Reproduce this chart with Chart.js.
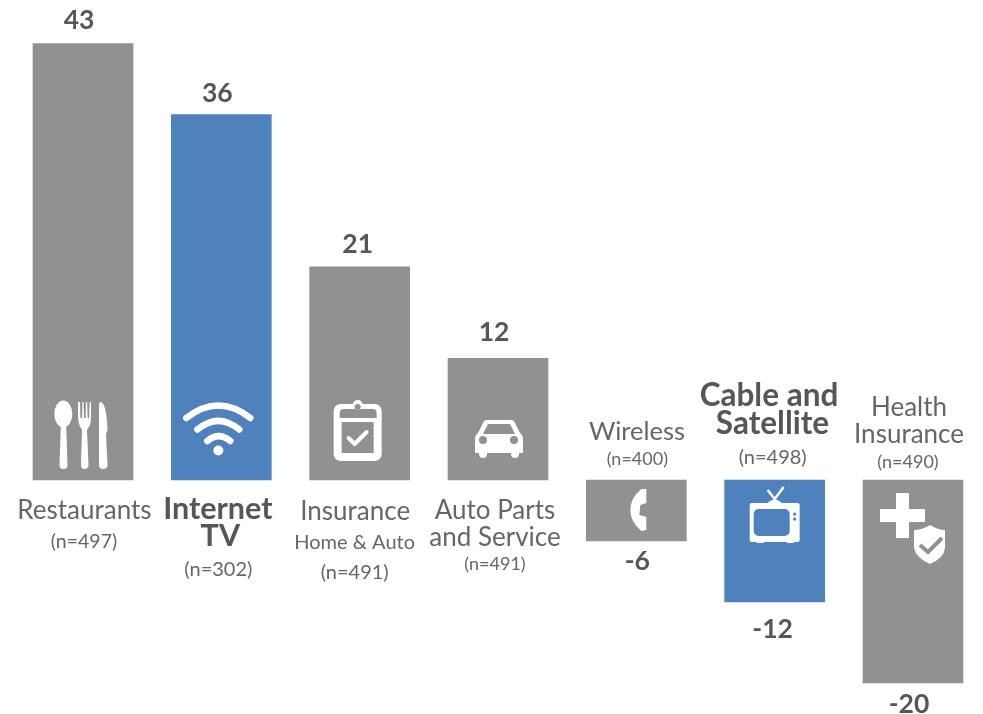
<!DOCTYPE html>
<html>
<head>
<meta charset="utf-8">
<title>Net score by category</title>
<script src="https://cdn.jsdelivr.net/npm/chart.js@4"></script>
<style>
    html, body { margin: 0; padding: 0; background: #fff; }
    canvas { display: block; }
</style>
</head>
<body>
<canvas id="scorechart" width="983" height="714"></canvas>
<script>
"use strict";

var categories = ['Restaurants', 'Internet TV', 'Insurance', 'Auto Parts and Service', 'Wireless', 'Cable and Satellite', 'Health Insurance'];
var scores = [43, 36, 21, 12, -6, -12, -20];
var sampleSizes = [497, 302, 491, 491, 400, 498, 490];
var highlighted = ['Internet TV', 'Cable and Satellite'];
var nameLines = [
    ['Restaurants'],
    ['Internet', 'TV'],
    ['Insurance', 'Home & Auto'],
    ['Auto Parts', 'and Service'],
    ['Wireless'],
    ['Cable and', 'Satellite'],
    ['Health', 'Insurance']
];

var FONT = 'Lato, "Open Sans", sans-serif';
var GREY = '#919191';
var BLUE = '#4f81bd';
var TEXT_DARK = '#565656';
var TEXT_SOFT = '#666666';

/* label slots: [dx from bar centre, baseline from zero line, size, weight] */
var nameSlots = [
    [[1.5, 39, 26, 400]],
    [[-3.5, 39, 30.5, 700], [-1, 66, 30.5, 700]],
    [[-4.5, 40, 26, 400], [-5, 69, 20, 400]],
    [[-3, 39, 26, 400], [-3, 66, 26, 400]],
    [[0.7, -40, 25.5, 400]],
    [[-5.7, -74, 31.5, 700], [-2.2, -46, 31.5, 700]],
    [[-4, -64, 26, 400], [-4, -37, 26, 400]]
];
var countSlots = [[1, 68, 19.5], [-3, 96, 20], [-5, 99, 20], [-3, 90, 18], [1, -15, 18], [-2, -16, 20], [-5, -12, 18]];
var valueSlots = [[-4, -15], [-4, -13], [-2, -14], [-4, -17], [1, 29], [-2, 36], [-4, 30]];

function roundedRect(ctx, x, y, w, h, r) {
    ctx.beginPath();
    ctx.roundRect(x, y, w, h, r);
}

/* icons are drawn around (0,0) = bar centre on the zero line */
var icons = [
    function (ctx) {
        // spoon
        ctx.beginPath();
        ctx.ellipse(-19.7, -66, 9, 13.5, 0, 0, Math.PI * 2);
        ctx.fill();
        ctx.beginPath();
        ctx.moveTo(-22, -60);
        ctx.lineTo(-23.5, -15);
        ctx.quadraticCurveTo(-23.5, -11, -19.5, -11);
        ctx.quadraticCurveTo(-15.5, -11, -15.5, -15);
        ctx.lineTo(-17, -60);
        ctx.fill();
        // fork
        ctx.beginPath();
        ctx.moveTo(-5, -78);
        ctx.lineTo(-5, -62);
        ctx.quadraticCurveTo(-4.5, -55, -1, -50);
        ctx.lineTo(-2, -15);
        ctx.quadraticCurveTo(-2, -11, 1.5, -11);
        ctx.quadraticCurveTo(5.5, -11, 5.5, -15);
        ctx.lineTo(4, -50);
        ctx.quadraticCurveTo(8, -55, 8, -62);
        ctx.lineTo(8, -78);
        ctx.lineTo(6.6, -78);
        ctx.lineTo(6.2, -62);
        ctx.lineTo(4.6, -62);
        ctx.lineTo(4.2, -78);
        ctx.lineTo(3, -78);
        ctx.lineTo(2.6, -62);
        ctx.lineTo(1, -62);
        ctx.lineTo(0.6, -78);
        ctx.lineTo(-0.6, -78);
        ctx.lineTo(-1, -62);
        ctx.lineTo(-2.6, -62);
        ctx.lineTo(-3, -78);
        ctx.closePath();
        ctx.fill();
        // knife
        ctx.beginPath();
        ctx.moveTo(16, -15);
        ctx.lineTo(16, -76);
        ctx.quadraticCurveTo(16, -78, 18, -78);
        ctx.quadraticCurveTo(23.5, -76, 24.5, -50);
        ctx.lineTo(23, -46);
        ctx.lineTo(24.5, -15);
        ctx.quadraticCurveTo(24.5, -11, 20, -11);
        ctx.quadraticCurveTo(16, -11, 16, -15);
        ctx.fill();
    },
    function (ctx) {
        ctx.lineWidth = 6.5;
        ctx.lineCap = 'round';
        ctx.beginPath();
        ctx.moveTo(-35, -62);
        ctx.quadraticCurveTo(-3, -87, 29, -62);
        ctx.stroke();
        ctx.beginPath();
        ctx.moveTo(-24, -50.5);
        ctx.quadraticCurveTo(-3, -68, 18, -50.5);
        ctx.stroke();
        ctx.beginPath();
        ctx.moveTo(-14, -39);
        ctx.quadraticCurveTo(-3, -49, 9, -39);
        ctx.stroke();
        ctx.beginPath();
        ctx.arc(-3, -29.5, 5, 0, Math.PI * 2);
        ctx.fill();
    },
    function (ctx) {
        roundedRect(ctx, -26, -76, 48, 57, 7);
        ctx.fill();
        ctx.fillStyle = GREY;
        roundedRect(ctx, -20, -71, 37, 9, [4, 4, 0, 0]);
        ctx.fill();
        ctx.fillRect(-18, -58, 32, 31);
        ctx.fillStyle = '#fff';
        ctx.beginPath();
        ctx.arc(-2, -75, 5, 0, Math.PI * 2);
        ctx.fill();
        ctx.fillStyle = GREY;
        ctx.beginPath();
        ctx.arc(-2, -73, 3, 0, Math.PI * 2);
        ctx.fill();
        ctx.strokeStyle = '#fff';
        ctx.lineWidth = 4;
        ctx.lineCap = 'round';
        ctx.lineJoin = 'round';
        ctx.beginPath();
        ctx.moveTo(-11, -42);
        ctx.lineTo(-5, -36);
        ctx.lineTo(7, -48);
        ctx.stroke();
    },
    function (ctx) {
        ctx.beginPath();
        ctx.moveTo(-11, -60);
        ctx.lineTo(13, -60);
        ctx.quadraticCurveTo(16, -60, 17, -57);
        ctx.lineTo(22, -47);
        ctx.quadraticCurveTo(25, -45, 25, -41);
        ctx.lineTo(25, -27);
        ctx.lineTo(21, -27);
        ctx.lineTo(21, -26);
        ctx.quadraticCurveTo(21, -22, 17, -22);
        ctx.quadraticCurveTo(13, -22, 13, -26);
        ctx.lineTo(13, -27);
        ctx.lineTo(-11, -27);
        ctx.lineTo(-11, -26);
        ctx.quadraticCurveTo(-11, -22, -15, -22);
        ctx.quadraticCurveTo(-19, -22, -19, -26);
        ctx.lineTo(-19, -27);
        ctx.lineTo(-23, -27);
        ctx.lineTo(-23, -41);
        ctx.quadraticCurveTo(-23, -45, -20, -47);
        ctx.lineTo(-15, -57);
        ctx.quadraticCurveTo(-14, -60, -11, -60);
        ctx.fill();
        ctx.fillStyle = GREY;
        ctx.beginPath();
        ctx.moveTo(-10, -56);
        ctx.lineTo(12, -56);
        ctx.lineTo(17, -46);
        ctx.lineTo(-15, -46);
        ctx.closePath();
        ctx.fill();
        ctx.beginPath();
        ctx.arc(-15, -40, 4, 0, Math.PI * 2);
        ctx.arc(16, -40, 4, 0, Math.PI * 2);
        ctx.fill();
    },
    function (ctx) {
        ctx.beginPath();
        ctx.moveTo(5, 9);
        ctx.lineTo(10, 9);
        ctx.lineTo(10, 23);
        ctx.lineTo(4, 25);
        ctx.lineTo(3, 35);
        ctx.lineTo(10, 37);
        ctx.lineTo(10, 50);
        ctx.lineTo(5, 51);
        ctx.quadraticCurveTo(-6, 42, -6, 30);
        ctx.quadraticCurveTo(-6, 18, 5, 9);
        ctx.fill();
    },
    function (ctx) {
        ctx.lineWidth = 2.5;
        ctx.beginPath();
        ctx.moveTo(-7, 10);
        ctx.lineTo(0, 19);
        ctx.lineTo(9, 7);
        ctx.stroke();
        ctx.beginPath();
        ctx.moveTo(-8, 24);
        ctx.quadraticCurveTo(0, 15, 8, 24);
        ctx.fill();
        roundedRect(ctx, -25, 23, 50, 39, 2);
        ctx.fill();
        ctx.fillRect(-18, 60, 7, 3);
        ctx.fillRect(12, 60, 7, 3);
        ctx.fillStyle = BLUE;
        roundedRect(ctx, -21, 29, 36, 27, 5);
        ctx.fill();
        ctx.beginPath();
        ctx.arc(20, 34, 1.6, 0, Math.PI * 2);
        ctx.arc(20, 39, 1.6, 0, Math.PI * 2);
        ctx.fill();
    },
    function (ctx) {
        ctx.fillRect(-17, 13, 13, 45);
        ctx.fillRect(-33, 29, 45, 13);
        ctx.beginPath();
        ctx.moveTo(17, 45);
        ctx.quadraticCurveTo(25, 50, 32, 50);
        ctx.lineTo(32, 68);
        ctx.quadraticCurveTo(31, 78, 17, 84);
        ctx.quadraticCurveTo(3, 78, 1, 68);
        ctx.lineTo(1, 50);
        ctx.quadraticCurveTo(9, 50, 17, 45);
        ctx.fill();
        ctx.strokeStyle = GREY;
        ctx.lineWidth = 4;
        ctx.beginPath();
        ctx.moveTo(7, 65);
        ctx.lineTo(15, 72);
        ctx.lineTo(29, 58);
        ctx.stroke();
    }
];

var barAnnotations = {
    id: 'barAnnotations',
    afterDatasetsDraw: function (chart) {
        var ctx = chart.ctx;
        var bars = chart.getDatasetMeta(0).data;
        var zero = chart.scales.y.getPixelForValue(0);

        ctx.save();
        ctx.textAlign = 'center';
        ctx.textBaseline = 'alphabetic';

        bars.forEach(function (bar, i) {
            ctx.save();
            ctx.translate(chart.scales.x.getPixelForValue(i), zero);
            ctx.fillStyle = '#fff';
            ctx.strokeStyle = '#fff';
            icons[i](ctx);
            ctx.restore();

            // value above or below the bar end
            ctx.fillStyle = TEXT_DARK;
            ctx.font = '700 26.5px ' + FONT;
            ctx.fillText(String(scores[i]), bar.x + valueSlots[i][0], bar.y + valueSlots[i][1]);

            // category name lines
            nameLines[i].forEach(function (line, j) {
                var slot = nameSlots[i][j];
                ctx.fillStyle = slot[3] === 700 ? TEXT_DARK : TEXT_SOFT;
                ctx.font = slot[3] + ' ' + slot[2] + 'px ' + FONT;
                ctx.fillText(line, bar.x + slot[0], zero + slot[1]);
            });

            // sample size
            var count = countSlots[i];
            ctx.fillStyle = TEXT_SOFT;
            ctx.font = '400 ' + count[2] + 'px ' + FONT;
            ctx.fillText('(n=' + sampleSizes[i] + ')', bar.x + count[0], zero + count[1]);
        });
        ctx.restore();
    }
};

document.addEventListener("DOMContentLoaded", function () {
    var scorechart = document.getElementById('scorechart').getContext('2d');
    new Chart(scorechart, {
        type: 'bar',
        data: {
            labels: categories,
            datasets: [{
                label: 'Score',
                data: scores,
                backgroundColor: categories.map(function (name) {
                    return highlighted.indexOf(name) >= 0 ? BLUE : GREY;
                }),
                borderWidth: 0,
                barThickness: 100
            }]
        },
        options: {
            responsive: false,
            animation: false,
            layout: { padding: { left: 13.83, right: 0.83, top: 0, bottom: 0 } },
            plugins: {
                legend: { display: false },
                tooltip: { enabled: false }
            },
            scales: {
                x: { display: false },
                y: { display: false, min: -23.05, max: 47.29 }
            }
        },
        plugins: [barAnnotations]
    });
});
</script>
</body>
</html>
